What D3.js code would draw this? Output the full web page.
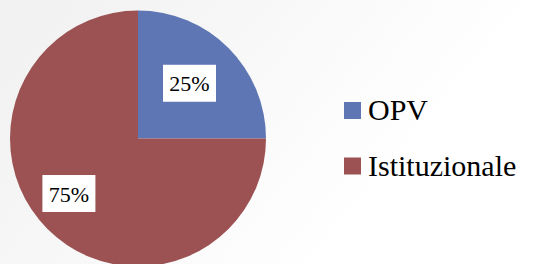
<!DOCTYPE html>
<meta charset="utf-8">
<style>
    body { margin: 0; }
</style>
<svg width="553" height="264"></svg>
<script src="https://d3js.org/d3.v7.min.js"></script>
<script>
    const categories = ["OPV", "Istituzionale"];
    const values = [25, 75];
    const labels = ["25%", "75%"];
    const colors = ["#5f76b4", "#9c5252"];

    const serif = "'Liberation Serif'";

    let svg = d3.select("svg"),
        width = +svg.attr("width"),
        height = +svg.attr("height");

    // faint grey wash on the left, fading to white
    let grad = svg.append("defs").append("linearGradient")
        .attr("id", "bg").attr("x1", "0").attr("y1", "0.3").attr("x2", "0.75").attr("y2", "0.6");
    grad.append("stop").attr("offset", "0").attr("stop-color", "#f2f2f2");
    grad.append("stop").attr("offset", "1").attr("stop-color", "#ffffff");
    svg.append("rect").attr("width", width).attr("height", height).attr("fill", "url(#bg)");

    const cx = 138, cy = 138.5, r = 128;

    let pie = d3.pie().sort(null).value(d => d)(values);
    let arc = d3.arc().innerRadius(0).outerRadius(r);

    let g = svg.append("g").attr("transform", `translate(${cx},${cy})`);
    g.selectAll("path")
        .data(pie)
        .enter().append("path")
        .attr("d", arc)
        .attr("fill", (d, i) => colors[i]);

    // data labels in white boxes ("best fit": the big slice label sits a bit further out and lower)
    function labelPos(d) {
        let mid = (d.startAngle + d.endAngle) / 2;
        let big = d.endAngle - d.startAngle > Math.PI;
        return d3.pointRadial(mid + (big ? 0.113 : -0.035), r * (big ? 0.69 : 0.59));
    }
    let lab = g.selectAll(".lab")
        .data(pie)
        .enter().append("g")
        .attr("transform", d => `translate(${labelPos(d)})`);
    lab.append("rect")
        .attr("x", -26.5).attr("y", -18.5)
        .attr("width", 53).attr("height", 37)
        .attr("fill", "#fff");
    lab.append("text")
        .attr("text-anchor", "middle")
        .attr("y", 8)
        .style("font-family", serif)
        .style("font-size", "22px")
        .text((d, i) => labels[i]);

    // legend
    let legend = svg.append("g").attr("transform", "translate(344,102)");
    let item = legend.selectAll("g")
        .data(categories)
        .enter().append("g")
        .attr("transform", (d, i) => `translate(0,${i * 55.5})`);
    item.append("rect")
        .attr("width", 17).attr("height", 17)
        .attr("fill", (d, i) => colors[i]);
    item.append("text")
        .attr("x", 24).attr("y", 18)
        .style("font-family", serif)
        .style("font-size", "30px")
        .text(d => d);
</script>
